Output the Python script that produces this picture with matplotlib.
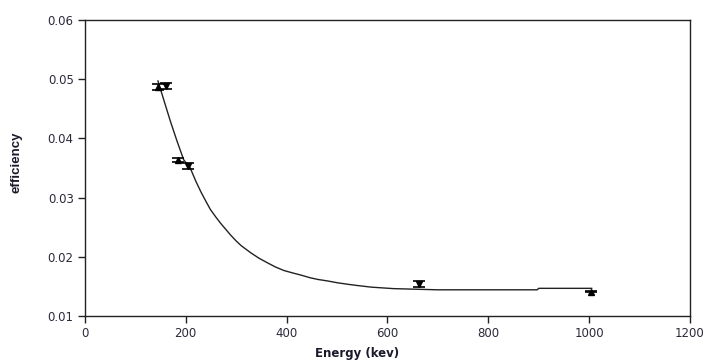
import numpy as np
import matplotlib.pyplot as plt

plt.rcParams['font.family'] = ['DejaVu Sans']

# measured points (energy, efficiency, error)
energy = [145, 160, 185, 205, 662, 1003]
eff = [0.0487, 0.0489, 0.0364, 0.0354, 0.0154, 0.0141]
eff_err = [0.0005, 0.0005, 0.0003, 0.0005, 0.0005, 0.0001]
markers = ['^', 'v', '^', 'v', 'v', '^']

# fitted curve
fit_e = [145, 158, 170, 183, 196, 209, 220, 230, 240, 249, 260, 270, 280, 289, 300, 310,
         329, 345, 360, 378, 395, 412, 430, 446, 462, 481, 500, 520, 538, 568, 612, 700,
         800, 897, 900, 1005]
fit_eff = [0.0497, 0.0461, 0.0428, 0.0395, 0.0364, 0.0350, 0.0328, 0.0310, 0.0294,
           0.0280, 0.0267, 0.0256, 0.0246, 0.0237, 0.0227, 0.0219, 0.0207, 0.0198,
           0.0191, 0.0183, 0.0177, 0.0173, 0.0169, 0.0165, 0.0162, 0.01595, 0.01565,
           0.0154, 0.0152, 0.0149, 0.01465, 0.01445, 0.01445, 0.01445, 0.0147, 0.0147]

fig, ax = plt.subplots(figsize=(7.07, 3.63), dpi=100)
fig.subplots_adjust(left=0.120, right=0.976, top=0.945, bottom=0.129)

ax.plot(fit_e, fit_eff, color='#222222', lw=1.0)
for e, v, err, m in zip(energy, eff, eff_err, markers):
    ax.errorbar(e, v, yerr=err, fmt=m, color='black', ms=4.2, capsize=4.5,
                elinewidth=1.0, capthick=1.2)

ax.set_xlim(0, 1200)
ax.set_ylim(0.01, 0.06)
ax.set_xticks(np.arange(0, 1201, 200))
ax.set_yticks([0.01, 0.02, 0.03, 0.04, 0.05, 0.06])
ax.set_yticklabels(['0.01', '0.02', '0.03', '0.04', '0.05', '0.06'])
ax.tick_params(direction='out', length=5, width=1, labelsize=8.5, pad=3,
               colors='#222222', labelcolor='#2a2a3a')
for s in ax.spines.values():
    s.set_linewidth(1.0)
    s.set_color('#222222')

ax.set_xlabel('Energy (kev)', fontsize=8.5, fontweight='bold', color='#1a1a2a')
ax.set_ylabel('efficiency', fontsize=9.5, fontweight='bold', color='#1a1a2a',
              family='Liberation Sans')
ax.xaxis.set_label_coords(0.45, -0.105)
ax.yaxis.set_label_coords(-0.1025, 0.52)

plt.savefig('out.png')
